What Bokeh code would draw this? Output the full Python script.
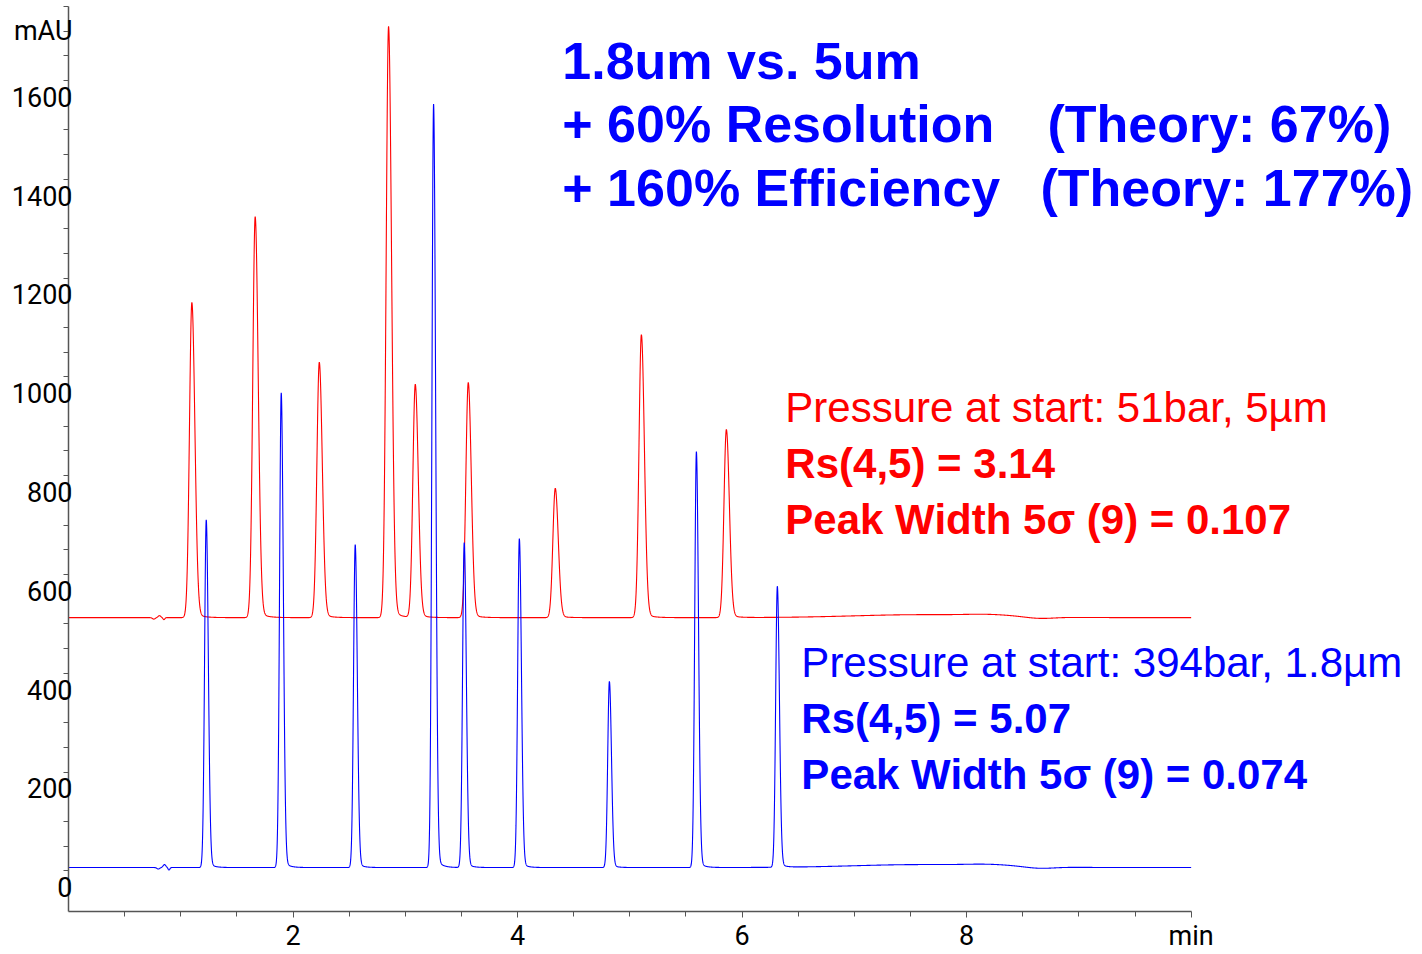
import numpy as np
from bokeh.plotting import figure
from bokeh.models import Range1d, FixedTicker, Label, LinearAxis
from bokeh.embed import file_html
from bokeh.resources import INLINE

# ---------------- data ----------------
# 1.8 um column (blue trace)
blue_times = [1.227, 1.895, 2.554, 3.252, 3.525, 4.016, 4.818, 5.593, 6.314]
blue_heights = [704, 961, 654, 1546, 658, 666, 377, 842, 569]
blue_baseline = 56.6
blue_sigma = 0.0148
# small baseline disturbances (time, height, width)
blue_dist_times = [0.80, 0.855, 0.895, 7.6, 8.2, 8.65]
blue_dist_heights = [-3, 6, -5, 6, 3, -3]
blue_dist_widths = [0.012, 0.012, 0.008, 0.6, 0.2, 0.12]

# 5 um column (red trace)
red_times = [1.099, 1.663, 2.234, 2.851, 3.089, 3.561, 4.336, 5.103, 5.860]
red_heights = [638, 812, 517, 1197, 472, 476, 262, 573, 381]
red_baseline = 562.6
red_sigma = 0.0214
red_dist_times = [0.76, 0.81, 0.85, 7.6, 8.2, 8.65]
red_dist_heights = [-3, 4, -4, 6, 3, -3]
red_dist_widths = [0.012, 0.012, 0.008, 0.6, 0.2, 0.12]

x_ticks = [2, 4, 6, 8, 10]
x_tick_labels = {10: "min"}
y_ticks = [0, 200, 400, 600, 800, 1000, 1200, 1400, 1600]
y_unit = "mAU"

title_lines = ["1.8um vs. 5um", "+ 60% Resolution", "+ 160% Efficiency"]
theory_lines = ["(Theory: 67%)", "(Theory: 177%)"]
red_lines = ["Pressure at start: 51bar, 5\u00b5m", "Rs(4,5) = 3.14", "Peak Width 5\u03c3 (9) = 0.107"]
blue_lines = ["Pressure at start: 394bar, 1.8\u00b5m", "Rs(4,5) = 5.07", "Peak Width 5\u03c3 (9) = 0.074"]

# ---------------- trace construction ----------------
t = np.linspace(0, 10, 10001)


def trace(times, heights, sigma, base, dt_, dh_, dw_):
    y = np.full_like(t, base, dtype=float)
    for tr, h in zip(times, heights):
        d = t - tr
        left = np.exp(-0.5 * (d / sigma) ** 2)
        right = 0.98 * np.exp(-0.5 * (d / (1.25 * sigma)) ** 2) + 0.02 * np.exp(-np.clip(d, 0, None) / (3 * sigma))
        y += h * np.where(d < 0, left, right)
    for tr, h, w in zip(dt_, dh_, dw_):
        y += h * np.exp(-0.5 * ((t - tr) / w) ** 2)
    return y


y_blue = trace(blue_times, blue_heights, blue_sigma, blue_baseline,
               blue_dist_times, blue_dist_heights, blue_dist_widths)
y_red = trace(red_times, red_heights, red_sigma, red_baseline,
              red_dist_times, red_dist_heights, red_dist_widths)

# ---------------- figure ----------------
W, H = 1422, 954
X_END = (W - 68.3) / 112.24  # frame runs to the right edge; axis itself stops at 10
p = figure(width=W, height=H, output_backend="svg", toolbar_location=None,
           x_range=Range1d(0, X_END), y_range=Range1d(-32.4, 1800),
           min_border_left=68, min_border_right=0, min_border_top=6,
           min_border_bottom=42)
p.outline_line_color = None
p.xgrid.visible = False
p.ygrid.visible = False
p.background_fill_color = "white"
p.border_fill_color = "white"

p.line(t, y_red, line_color="#ff0000", line_width=1.1)
p.line(t, y_blue, line_color="#0000ff", line_width=1.1)

AX_FONT = "Roboto"
AX_COLOR = "#555555"
for ax in (p.xaxis[0], p.yaxis[0]):
    ax.axis_line_color = AX_COLOR
    ax.axis_line_width = 1.5
    ax.major_tick_line_color = AX_COLOR
    ax.minor_tick_line_color = AX_COLOR
    ax.major_tick_in = 0
    ax.minor_tick_in = 0
    ax.major_tick_out = 6
    ax.minor_tick_out = 5
    ax.major_label_text_font = AX_FONT
    ax.major_label_text_font_size = "27px"
    ax.major_label_text_color = "black"

p.xaxis.bounds = (0, 10)
p.xaxis.ticker = FixedTicker(ticks=x_ticks, minor_ticks=[0.5 * i for i in range(1, 20)])
p.xaxis.major_label_overrides = x_tick_labels
p.xaxis.major_label_standoff = 2

# primary y axis: line and tick marks only
p.yaxis.ticker = FixedTicker(ticks=y_ticks, minor_ticks=[50 * i for i in range(0, 37)])
p.yaxis.major_label_overrides = {v: "" for v in y_ticks}
p.yaxis.major_label_standoff = 0

# secondary y axis: tick labels only, drawn slightly above their tick marks
LABEL_SHIFT = 15      # in data units (~7 px)
UNIT_POS = 1751       # where the "mAU" unit text sits
lab_ticks = [v + LABEL_SHIFT for v in y_ticks] + [UNIT_POS]
lab_over = {v + LABEL_SHIFT: str(v) for v in y_ticks}
lab_over[UNIT_POS] = y_unit
ax2 = LinearAxis(ticker=FixedTicker(ticks=lab_ticks, minor_ticks=[]),
                 major_label_overrides=lab_over,
                 axis_line_color=None, major_tick_line_color=None,
                 minor_tick_line_color=None, major_tick_in=0, major_tick_out=0,
                 minor_tick_in=0, minor_tick_out=0,
                 major_label_standoff=-10,
                 major_label_text_font=AX_FONT, major_label_text_font_size="27px",
                 major_label_text_color="black")
p.add_layout(ax2, "left")

# pixel -> data helpers
def dx(px):
    return (px - 68.3) / 112.24


def dy(py):
    return (896 - py) / 0.4945


def add_label(px, py, text, color, size, bold=False, font="Liberation Sans", align="left"):
    s = float(size.replace("px", ""))
    p.add_layout(Label(x=dx(px), y=dy(py - 0.38 * s), text=text, text_color=color,
                       text_font=font, text_font_size=size,
                       text_font_style="bold" if bold else "normal",
                       text_align=align, text_baseline="alphabetic"))

# headline
BLUE = "#0000ff"
RED = "#ff0000"
add_label(562, 80, title_lines[0], BLUE, "52px", bold=True)
add_label(562, 143, title_lines[1], BLUE, "52px", bold=True)
add_label(1047, 143, theory_lines[0], BLUE, "52px", bold=True)
add_label(562, 207, title_lines[2], BLUE, "52px", bold=True)
add_label(1040, 207, theory_lines[1], BLUE, "52px", bold=True)

# red block
add_label(785, 423, red_lines[0], RED, "42px")
add_label(785, 479, red_lines[1], RED, "42px", bold=True)
add_label(785, 535, red_lines[2], RED, "42px", bold=True)

# blue block
add_label(801, 679, blue_lines[0], BLUE, "42px")
add_label(801, 735, blue_lines[1], BLUE, "42px", bold=True)
add_label(801, 791, blue_lines[2], BLUE, "42px", bold=True)

open("out.html", "w").write(file_html(p, INLINE))
